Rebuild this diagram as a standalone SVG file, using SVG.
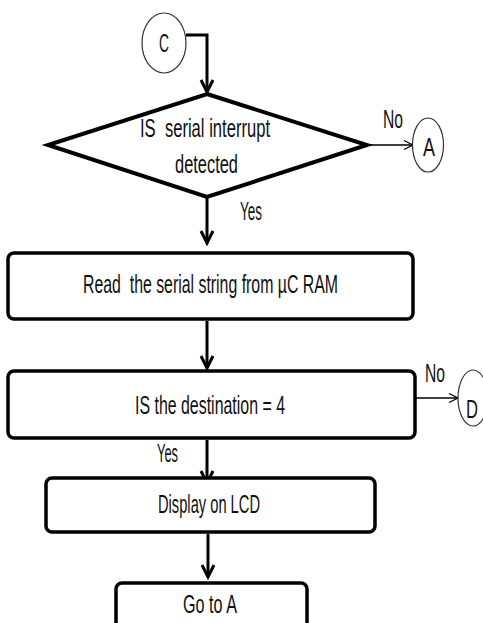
<svg xmlns="http://www.w3.org/2000/svg" width="483" height="623" viewBox="0 0 483 623">
<style>
text{font-family:"Liberation Sans",Arial,sans-serif;font-size:26px;fill:#111;}
.box{fill:#fff;stroke:#000;stroke-width:3.5;}
.conn{fill:#fff;stroke:#333;stroke-width:1.2;}
.thick{fill:none;stroke:#000;stroke-width:3;}
.thin{fill:none;stroke:#000;stroke-width:1.3;}
</style>
<defs>
<marker id="ah" markerUnits="userSpaceOnUse" markerWidth="16" markerHeight="16" refX="13" refY="7" orient="auto" viewBox="0 0 16 14">
<path d="M1,1 L13,7 L1,13" fill="none" stroke="#000" stroke-width="3"/>
</marker>
<marker id="ahs" markerUnits="userSpaceOnUse" markerWidth="12" markerHeight="12" refX="10" refY="5" orient="auto" viewBox="0 0 12 10">
<path d="M1,0.5 L10,5 L1,9.5" fill="none" stroke="#000" stroke-width="1.3"/>
</marker>
</defs>
<g id="connectors">
<path class="thick" d="M186,35 H207 V92" marker-end="url(#ah)"/>
<path class="thin" d="M367,145 H413" marker-end="url(#ahs)"/>
<path class="thick" d="M207,197 V243" marker-end="url(#ah)"/>
<path class="thick" d="M207,321 V368" marker-end="url(#ah)"/>
<path class="thin" d="M415,398 H458" marker-end="url(#ahs)"/>
<path class="thick" d="M207,440 V483" marker-end="url(#ah)"/>
<path class="thick" d="M208,534 V577" marker-end="url(#ah)"/>
<text x="383" y="128" textLength="20" lengthAdjust="spacingAndGlyphs">No</text>
<text x="240" y="220" textLength="22" lengthAdjust="spacingAndGlyphs">Yes</text>
<text x="425" y="382" textLength="20" lengthAdjust="spacingAndGlyphs">No</text>
<text x="157" y="462" textLength="21" lengthAdjust="spacingAndGlyphs">Yes</text>
</g>
<g id="nodeC">
<ellipse class="conn" cx="164" cy="43" rx="22" ry="30"/>
<text x="159" y="52" textLength="10" lengthAdjust="spacingAndGlyphs">C</text>
</g>
<g id="decision1">
<polygon points="207,94 367,145 207,197 48,145" fill="#fff" stroke="#000" stroke-width="4" stroke-linejoin="miter"/>
<text x="140" y="137" textLength="130" lengthAdjust="spacingAndGlyphs">IS&#160; serial interrupt</text>
<text x="175" y="173" textLength="63" lengthAdjust="spacingAndGlyphs">detected</text>
</g>
<g id="nodeA">
<ellipse class="conn" cx="428" cy="145" rx="15.5" ry="27"/>
<text x="423" y="156" textLength="12" lengthAdjust="spacingAndGlyphs">A</text>
</g>
<g id="read">
<rect class="box" x="8" y="253" width="405" height="66" rx="6"/>
<text x="83" y="293" textLength="255" lengthAdjust="spacingAndGlyphs">Read&#160; the serial string from µC RAM</text>
</g>
<g id="decision2">
<rect class="box" x="8" y="371" width="407" height="67" rx="6"/>
<text x="135" y="414" textLength="150" lengthAdjust="spacingAndGlyphs">IS the destination = 4</text>
</g>
<g id="nodeD">
<ellipse class="conn" cx="473" cy="398" rx="15" ry="28"/>
<text x="466" y="418" textLength="12" lengthAdjust="spacingAndGlyphs">D</text>
</g>
<g id="display">
<rect class="box" x="46" y="478" width="329" height="54" rx="6"/>
<text x="158" y="513" textLength="102" lengthAdjust="spacingAndGlyphs">Display on LCD</text>
</g>
<g id="goto">
<rect class="box" x="116" y="583" width="191" height="50" rx="6"/>
<text x="183" y="613" textLength="54" lengthAdjust="spacingAndGlyphs">Go to A</text>
</g>
</svg>
